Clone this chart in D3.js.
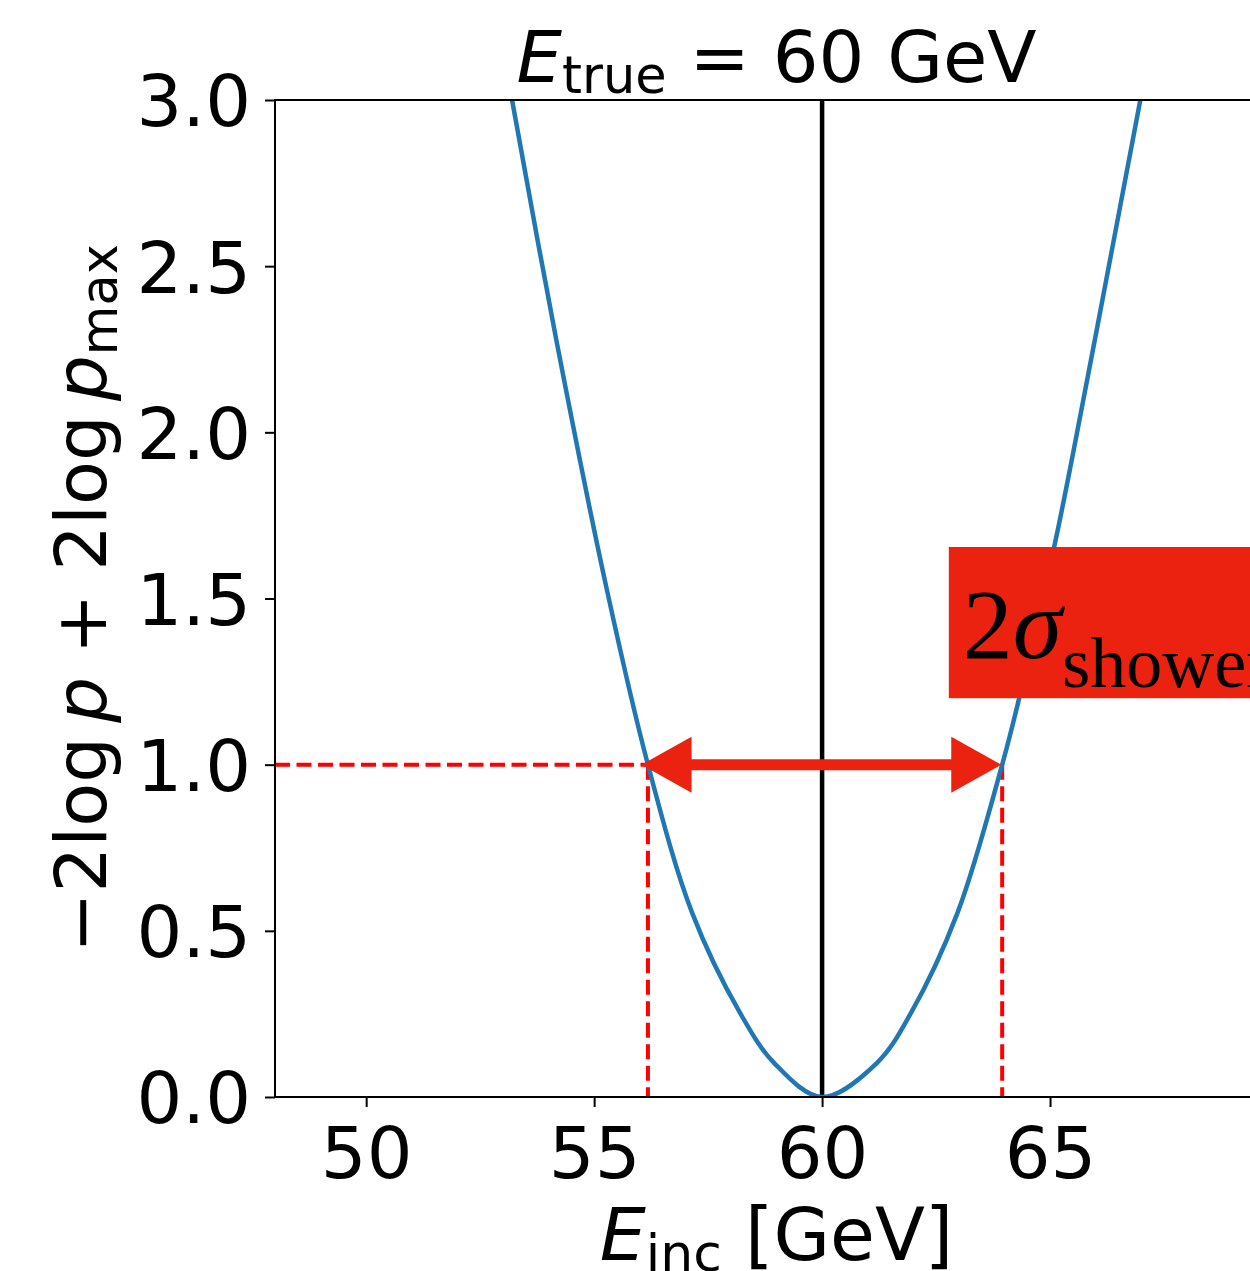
<!DOCTYPE html>
<html>
<head>
<meta charset="utf-8">
<script src="https://cdn.jsdelivr.net/npm/d3@7"></script>
<style>
  body { margin: 0; background: #fff; }
  svg { display: block; }
  text { font-family: "DejaVu Sans", sans-serif; }
</style>
</head>
<body>
<div class="chart-container"></div>
<script>
const width = 1250, height = 1271;

// curve: E_inc [GeV] vs -2log p + 2log p_max
const eInc = [53.20, 54.17, 55.28, 56.18, 57.15, 58.20, 58.95, 60.00,
              61.20, 61.95, 62.97, 63.95, 64.33, 65.09, 65.49, 66.19, 66.98];
const nll  = [3.000, 2.278, 1.526, 1.000, 0.554, 0.253, 0.102, 0.000,
              0.102, 0.253, 0.554, 1.000, 1.204, 1.655, 1.926, 2.428, 3.000];

const eTrue = 60;
const level = 1.0;
const crossLow = 56.18, crossHigh = 63.95;
const arrowFrom = 56.04, arrowTo = 63.93;

const xTicks = [50, 55, 60, 65];
const yTicks = [0.0, 0.5, 1.0, 1.5, 2.0, 2.5, 3.0];

// label box corners in data coords
const boxX = 62.78, boxY0 = 1.20, boxY1 = 1.655;

var svg = d3.select(".chart-container")
    .append("svg")
    .attr("width", width)
    .attr("height", height);

svg.append("rect").attr("width", width).attr("height", height).attr("fill", "#fff");

var x = d3.scaleLinear().domain([48, 70]).range([275, 1278]);
var y = d3.scaleLinear().domain([0, 3]).range([1097, 100]);

svg.append("clipPath").attr("id", "plotclip")
    .append("rect")
    .attr("x", x(48)).attr("y", y(3))
    .attr("width", x(70) - x(48)).attr("height", y(0) - y(3));

var plot = svg.append("g").attr("clip-path", "url(#plotclip)");

// red dashed guides
const dash = "15,6.5";
plot.append("line")
    .attr("x1", x(48)).attr("x2", x(crossLow))
    .attr("y1", y(level)).attr("y2", y(level))
    .attr("stroke", "#ff0000").attr("stroke-width", 4).attr("stroke-dasharray", dash);
[crossLow, crossHigh].forEach(v => {
  plot.append("line")
    .attr("x1", x(v)).attr("x2", x(v))
    .attr("y1", y(level)).attr("y2", y(0))
    .attr("stroke", "#ff0000").attr("stroke-width", 4).attr("stroke-dasharray", dash);
});

// true energy line
plot.append("line")
    .attr("x1", x(eTrue)).attr("x2", x(eTrue))
    .attr("y1", y(3)).attr("y2", y(0))
    .attr("stroke", "#000").attr("stroke-width", 4.5);

// likelihood curve
var line = d3.line()
    .x((d, i) => x(eInc[i]))
    .y((d, i) => y(nll[i]))
    .curve(d3.curveCatmullRom.alpha(0.5));
plot.append("path")
    .datum(nll)
    .attr("d", line)
    .attr("fill", "none")
    .attr("stroke", "#1f77b4")
    .attr("stroke-width", 4.5);

// double arrow
const red = "#ec2210";
const headL = 50, headW = 28;
var ay = y(level);
svg.append("line")
    .attr("x1", x(arrowFrom) + headL - 2).attr("x2", x(arrowTo) - headL + 2)
    .attr("y1", ay).attr("y2", ay)
    .attr("stroke", red).attr("stroke-width", 11);
svg.append("path")
    .attr("d", "M" + x(arrowFrom) + "," + ay + "L" + (x(arrowFrom) + headL) + "," + (ay - headW) +
               "L" + (x(arrowFrom) + headL) + "," + (ay + headW) + "Z")
    .attr("fill", red);
svg.append("path")
    .attr("d", "M" + x(arrowTo) + "," + ay + "L" + (x(arrowTo) - headL) + "," + (ay - headW) +
               "L" + (x(arrowTo) - headL) + "," + (ay + headW) + "Z")
    .attr("fill", red);

// label box
svg.append("rect")
    .attr("x", x(boxX)).attr("y", y(boxY1))
    .attr("width", 400).attr("height", y(boxY0) - y(boxY1))
    .attr("fill", red);
var lab = svg.append("text")
    .attr("x", x(boxX) + 14).attr("y", 658)
    .style("font-family", "'Liberation Serif', 'Times New Roman', serif")
    .attr("font-size", 100).attr("fill", "#000");
lab.append("tspan").text("2");
lab.append("tspan").attr("font-style", "italic").text("σ");
lab.append("tspan").attr("font-size", 72).attr("dy", 29).text("shower");

// axes
var xAxis = svg.append("g").attr("transform", "translate(0," + y(0) + ")")
    .call(d3.axisBottom(x).tickValues(xTicks).tickSize(10).tickPadding(20).tickSizeOuter(0));
var yAxis = svg.append("g").attr("transform", "translate(" + x(48) + ",0)")
    .call(d3.axisLeft(y).tickValues(yTicks).tickSize(10).tickPadding(14).tickSizeOuter(0)
          .tickFormat(d3.format(".1f")));
[xAxis, yAxis].forEach(g => {
  g.select(".domain").remove();
  g.selectAll(".tick line").attr("stroke", "#000").attr("stroke-width", 2);
  g.selectAll(".tick text").attr("fill", "#000").attr("font-size", 72)
    .style("font-family", "'DejaVu Sans'");
});
xAxis.selectAll(".tick text").attr("dy", null).attr("y", 81);
yAxis.selectAll(".tick text").attr("dy", "0.36em");

// spines
svg.append("rect")
    .attr("x", x(48)).attr("y", y(3))
    .attr("width", x(70) - x(48)).attr("height", y(0) - y(3))
    .attr("fill", "none").attr("stroke", "#000").attr("stroke-width", 2);

// title
var title = svg.append("text")
    .attr("x", (x(48) + x(70)) / 2).attr("y", 82)
    .attr("text-anchor", "middle").attr("font-size", 72);
title.append("tspan").attr("font-style", "italic").text("E");
title.append("tspan").attr("font-size", 51).attr("dy", 11).text("true");
title.append("tspan").attr("dy", -11).text(" = 60 GeV");

// x label
var xl = svg.append("text")
    .attr("x", (x(48) + x(70)) / 2).attr("y", 1260)
    .attr("text-anchor", "middle").attr("font-size", 73);
xl.append("tspan").attr("font-style", "italic").text("E");
xl.append("tspan").attr("font-size", 52).attr("dy", 11).text("inc");
xl.append("tspan").attr("dy", -11).text(" [GeV]");

// y label
var yl = svg.append("text")
    .attr("transform", "translate(106," + (y(0) + y(3)) / 2 + ") rotate(-90)")
    .attr("text-anchor", "middle").attr("font-size", 72);
yl.append("tspan").text("\u22122log\u2009");
yl.append("tspan").attr("font-style", "italic").text("p");
yl.append("tspan").text(" + 2log\u2009");
yl.append("tspan").attr("font-style", "italic").text("p");
yl.append("tspan").attr("font-size", 51).attr("dy", 11).text("max");
</script>
</body>
</html>
